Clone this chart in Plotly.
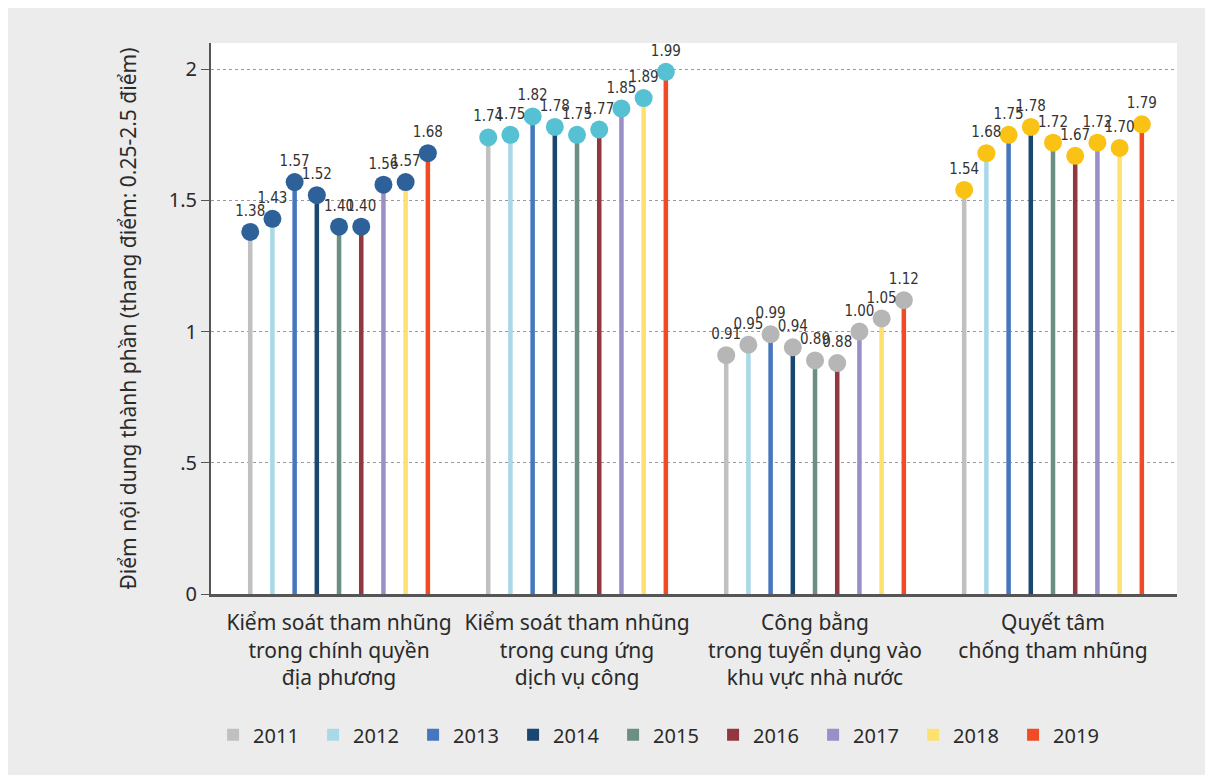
import plotly.graph_objects as go

groups = [
    "Kiểm soát tham nhũng<br>trong chính quyền<br>địa phương",
    "Kiểm soát tham nhũng<br>trong cung ứng<br>dịch vụ công",
    "Công bằng<br>trong tuyển dụng vào<br>khu vực nhà nước",
    "Quyết tâm<br>chống tham nhũng",
]
years = ["2011", "2012", "2013", "2014", "2015", "2016", "2017", "2018", "2019"]

# scores per group, one value per year 2011..2019
local_gov = [1.38, 1.43, 1.57, 1.52, 1.40, 1.40, 1.56, 1.57, 1.68]
public_service = [1.74, 1.75, 1.82, 1.78, 1.75, 1.77, 1.85, 1.89, 1.99]
recruitment = [0.91, 0.95, 0.99, 0.94, 0.89, 0.88, 1.00, 1.05, 1.12]
determination = [1.54, 1.68, 1.75, 1.78, 1.72, 1.67, 1.72, 1.70, 1.79]
scores = [local_gov, public_service, recruitment, determination]

year_colors = ["#c0c0c0", "#a9d8e6", "#4677be", "#1b4670", "#6b8f82",
               "#923640", "#9a8fc7", "#fde171", "#f04b25"]
group_colors = ["#2e6199", "#56c1d3", "#b6b6b6", "#f9c215"]

step = 0.0933
fig = go.Figure()

for j, yr in enumerate(years):
    fig.add_bar(
        x=[g + 1 + (j - 4) * step for g in range(4)],
        y=[scores[g][j] for g in range(4)],
        width=0.019,
        marker=dict(color=year_colors[j], line_width=0),
        name=yr,
        hoverinfo="skip",
    )

for g in range(4):
    fig.add_scatter(
        x=[g + 1 + (j - 4) * step for j in range(9)],
        y=scores[g],
        mode="markers+text",
        marker=dict(size=18, color=group_colors[g]),
        text=[f"{v:.2f}" for v in scores[g]],
        textposition="top center",
        textfont=dict(size=15, color="#333333",
                      family="Liberation Sans Narrow, DejaVu Sans Condensed, sans-serif"),
        showlegend=False,
        cliponaxis=False,
    )

fig.update_layout(
    width=1213,
    height=775,
    barmode="overlay",
    paper_bgcolor="#ececec",
    plot_bgcolor="white",
    font=dict(family="Noto Sans, Open Sans, sans-serif", color="#2a2a2a", size=18),
    margin=dict(l=203, r=44, t=35, b=189, autoexpand=False),
    legend=dict(
        orientation="h",
        x=0.468,
        xanchor="center",
        y=-0.22,
        yanchor="top",
        font=dict(size=20, color="#2a2a2a"),
        bgcolor="rgba(0,0,0,0)",
        entrywidth=55,
    ),
    xaxis=dict(
        range=[0.462, 4.521],
        tickmode="array",
        tickvals=[1, 2, 3, 4],
        ticktext=groups,
        showgrid=False,
        zeroline=False,
        showline=True,
        linecolor="#555555",
        linewidth=3,
        ticks="",
        ticklabelstandoff=8,
        tickfont=dict(size=21),
    ),
    yaxis=dict(
        range=[0, 2.1],
        tickmode="array",
        tickvals=[0, 0.5, 1, 1.5, 2],
        ticktext=["0", ".5", "1", "1.5", "2"],
        showgrid=True,
        gridcolor="#9a9a9a",
        griddash="dot",
        zeroline=False,
        showline=True,
        linecolor="#555555",
        linewidth=2,
        ticks="outside",
        ticklen=8,
        tickcolor="#555555",
        tickfont=dict(size=20),
        title=dict(text="Điểm nội dung thành phần (thang điểm: 0.25-2.5 điểm)",
                   font=dict(size=21), standoff=26),
    ),
)

fig.write_html("out.html")
